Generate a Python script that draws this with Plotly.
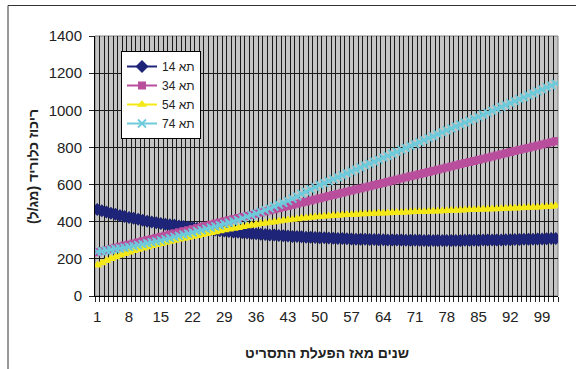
import plotly.graph_objects as go

years = list(range(1, 103))

cell14 = [466, 459, 452, 446, 440, 434, 428, 423, 418, 413,
          408, 403, 399, 395, 391, 387, 384, 381, 377, 374,
          371, 368, 365, 362, 360, 357, 355, 352, 350, 347,
          345, 343, 341, 339, 337, 335, 333, 331, 329, 328,
          326, 324, 323, 321, 320, 319, 317, 316, 315, 314,
          313, 312, 311, 310, 309, 308, 307, 306, 306, 305,
          304, 304, 303, 303, 302, 302, 301, 301, 300, 300,
          300, 300, 299, 299, 299, 299, 299, 299, 299, 299,
          299, 300, 300, 300, 300, 301, 301, 301, 302, 302,
          303, 303, 304, 304, 305, 305, 306, 307, 307, 308,
          309, 310]

cell34 = [236, 242, 248, 254, 260, 266, 272, 277, 283, 289,
          295, 301, 307, 313, 319, 325, 331, 337, 343, 349,
          354, 360, 366, 372, 378, 384, 390, 396, 402, 408,
          414, 420, 426, 432, 437, 443, 449, 455, 461, 467,
          473, 479, 485, 491, 497, 503, 508, 514, 520, 526,
          532, 538, 544, 550, 556, 562, 568, 574, 579, 585,
          591, 597, 603, 609, 615, 621, 627, 633, 639, 645,
          650, 656, 662, 668, 674, 680, 686, 692, 698, 704,
          710, 716, 722, 727, 733, 739, 745, 751, 757, 763,
          769, 775, 781, 787, 793, 798, 804, 810, 816, 822,
          828, 834]

cell54 = [165, 178, 190, 200, 210, 219, 227, 235, 243, 250,
          257, 264, 270, 276, 282, 288, 294, 299, 305, 310,
          315, 320, 325, 330, 335, 340, 345, 350, 355, 359,
          364, 368, 373, 377, 381, 385, 389, 392, 396, 399,
          403, 406, 409, 412, 415, 418, 420, 423, 425, 427,
          429, 431, 433, 434, 436, 437, 438, 439, 441, 442,
          443, 444, 445, 446, 447, 448, 449, 450, 451, 452,
          453, 454, 454, 455, 456, 457, 458, 459, 460, 461,
          462, 463, 464, 465, 466, 467, 467, 468, 469, 470,
          471, 472, 473, 474, 475, 476, 477, 478, 479, 481,
          482, 484]

cell74 = [238, 241, 245, 249, 253, 257, 261, 265, 269, 274,
          279, 284, 289, 294, 300, 306, 312, 318, 324, 330,
          336, 342, 349, 355, 362, 368, 375, 381, 388, 395,
          402, 409, 418, 427, 436, 444, 453, 462, 472, 482,
          492, 502, 512, 524, 537, 550, 562, 574, 586, 598,
          608, 619, 629, 640, 650, 661, 671, 682, 692, 703,
          713, 724, 734, 745, 755, 766, 776, 787, 797, 808,
          818, 829, 839, 850, 860, 871, 881, 892, 902, 913,
          923, 934, 944, 955, 965, 976, 986, 997, 1007, 1018,
          1028, 1039, 1049, 1060, 1070, 1081, 1091, 1102, 1112, 1123,
          1133, 1144]

series_names = ["תא 14", "תא 34", "תא 54", "תא 74"]
x_tick_vals = list(range(1, 100, 7))
x_tick_text = [str(v) for v in x_tick_vals]
y_title = "ריכוז כלוריד (מג/ל)"
x_title = "שנים מאז הפעלת התסריט"

FONT = "Liberation Sans, Arial, sans-serif"

styles = [
    dict(color="#1E2478", symbol="diamond", size=10),
    dict(color="#B84E9C", symbol="square", size=8),
    dict(color="#F4E817", symbol="triangle-up", size=9),
    dict(color="#6ECBDB", symbol="x-thin", size=8),
]

fig = go.Figure()
for name, vals, st in zip(series_names, [cell14, cell34, cell54, cell74], styles):
    n = min(len(years), len(vals))
    if st["symbol"] == "x-thin":
        marker = dict(symbol="x-thin", size=st["size"],
                      line=dict(color=st["color"], width=1.8), color=st["color"])
    else:
        marker = dict(symbol=st["symbol"], size=st["size"], color=st["color"],
                      line=dict(width=0))
    fig.add_trace(go.Scatter(
        x=years[:n], y=vals[:n], name=name, mode="lines+markers",
        line=dict(color=st["color"], width=2), marker=marker,
    ))

boundaries = [k + 0.5 for k in range(0, len(years) + 1)]

fig.update_layout(
    width=576, height=369,
    margin=dict(l=95, r=18, t=36, b=73, pad=0),
    paper_bgcolor="white",
    plot_bgcolor="#C4C4C4",
    font=dict(family=FONT, size=15, color="#222"),
    showlegend=True,
    legend=dict(
        x=(121 - 95) / 463, y=(296 - 51) / 260, xanchor="left", yanchor="top",
        bgcolor="white", bordercolor="black", borderwidth=1,
        font=dict(family=FONT, size=12, color="#222"),
        tracegroupgap=0, itemwidth=30,
    ),
    xaxis=dict(
        range=[0.5, len(years) + 0.5],
        tickmode="array", tickvals=x_tick_vals, ticktext=x_tick_text,
        ticks="", showgrid=False, zeroline=False,
        showline=True, linecolor="black", linewidth=1,
        tickfont=dict(family=FONT, size=15, color="#222"),
        ticklabelstandoff=7,
        minor=dict(tickmode="array", tickvals=boundaries, ticks="outside",
                   ticklen=5, tickcolor="#222", showgrid=True,
                   gridcolor="#1a1a1a", gridwidth=1),
    ),
    yaxis=dict(
        range=[0, 1400], tick0=0, dtick=200,
        ticks="outside", ticklen=5, tickcolor="#222",
        showgrid=True, gridcolor="#1a1a1a", gridwidth=1,
        zeroline=False, showline=True, linecolor="black", linewidth=1,
        tickfont=dict(family=FONT, size=15, color="#222"),
        ticklabelstandoff=4,
    ),
    shapes=[
        dict(type="rect", xref="paper", yref="paper",
             x0=(8 - 95) / 463, x1=2.0, y0=(296 - 400) / 260, y1=(296 - 5.5) / 260,
             line=dict(color="#333", width=1), fillcolor="rgba(0,0,0,0)", layer="above"),
        dict(type="rect", xref="paper", yref="paper", x0=0, x1=1, y0=0, y1=1,
             line=dict(color="#808080", width=1), fillcolor="rgba(0,0,0,0)", layer="below"),
    ],
    annotations=[
        dict(text="<b>" + x_title + "</b>", xref="paper", yref="paper",
             x=(327 - 95) / 463, y=(296 - 353) / 260, xanchor="center", yanchor="middle",
             showarrow=False, font=dict(family=FONT, size=14, color="#222")),
        dict(text="<b>" + y_title + "</b>", xref="paper", yref="paper",
             x=(33 - 95) / 463, y=0.5, xanchor="center", yanchor="middle",
             textangle=-90, showarrow=False, font=dict(family=FONT, size=14, color="#222")),
    ],
)

fig.write_html("out.html")
